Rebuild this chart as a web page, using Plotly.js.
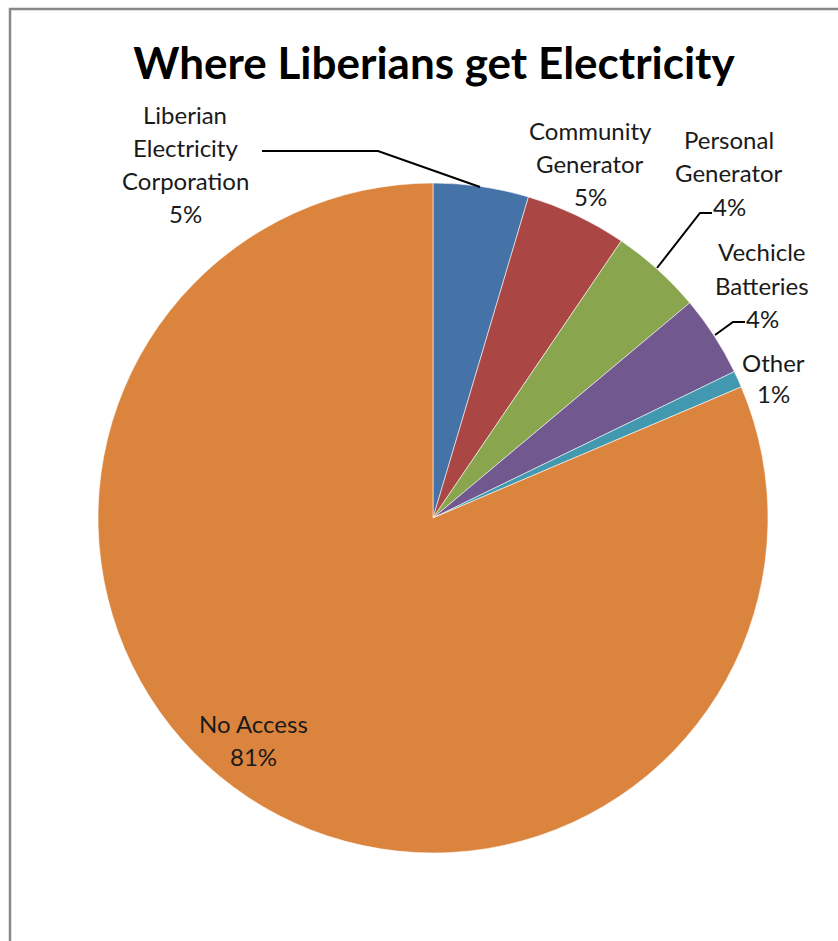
<!DOCTYPE html>
<html>
<head>
<meta charset="utf-8">
<script src="https://cdn.plot.ly/plotly-3.0.1.min.js"></script>
<style>html,body{margin:0;padding:0;background:#fff;}#chart{width:838px;height:941px;}</style>
</head>
<body>
<div id="chart"></div>
<script>
// ---- data ----
const categories = ["Liberian Electricity Corporation", "Community Generator", "Personal Generator", "Vechicle Batteries", "Other", "No Access"];
const values = [4.6, 4.9, 4.4, 3.9, 0.8, 81.4];
const labelLines = [["Liberian", "Electricity", "Corporation"], ["Community", "Generator"], ["Personal", "Generator"], ["Vechicle", "Batteries"], ["Other"], ["No Access"]];
const colors = ["#4572A7", "#AA4643", "#89A54E", "#71588F", "#4198AF", "#DB843D"];
const titleText = "Where Liberians get Electricity";

// ---- layout helpers (pixel -> paper) ----
const W = 838, H = 941;
const px = x => x / W;
const py = y => 1 - y / H;

// pie geometry
const cx = 433, cy = 518, r = 335;

// label placement (first-line centre, line spacing)
const labelPos = [
  {x: 185, y: 115, dy: 33},
  {x: 590, y: 130, dy: 33},
  {x: 729, y: 140, dy: 33},
  {x: 762, y: 252, dy: 33},
  {x: 773, y: 362, dy: 31},
  {x: 253, y: 723, dy: 33}
];

const total = values.reduce((a, b) => a + b, 0);
const annotations = [];
categories.forEach((c, i) => {
  const lines = labelLines[i].concat([Math.round(values[i] / total * 100) + "%"]);
  const p = labelPos[i];
  lines.forEach((t, k) => {
    annotations.push({
      xref: "paper", yref: "paper",
      x: px(p.x), y: py(p.y + k * p.dy),
      xanchor: "center", yanchor: "middle",
      text: t, showarrow: false,
      font: {family: "Lato, 'Open Sans', sans-serif", size: 24, color: "#1a1a1a"}
    });
  });
});

// leader lines
const leaders = [
  [[262, 151], [378, 151], [480, 187]],
  [[712, 213], [700, 213], [657, 268]],
  [[745, 322], [733, 322], [715, 335]]
];
const shapes = leaders.map(pts => ({
  type: "path", xref: "paper", yref: "paper",
  path: "M " + pts.map(p => px(p[0]) + "," + py(p[1])).join(" L "),
  line: {color: "#000", width: 2}
}));
// outer chart border
shapes.push({
  type: "rect", xref: "paper", yref: "paper",
  x0: px(10), y0: py(9), x1: px(860), y1: py(970),
  line: {color: "#888888", width: 2.5}, fillcolor: "rgba(0,0,0,0)"
});

const trace = {
  type: "pie",
  labels: categories,
  values: values,
  sort: false,
  direction: "clockwise",
  rotation: 0,
  textinfo: "none",
  hoverinfo: "label+percent",
  marker: {colors: colors, line: {color: "rgba(255,255,255,0.7)", width: 0.8}},
  domain: {x: [px(cx - r), px(cx + r)], y: [py(cy + r), py(cy - r)]},
  showlegend: false
};

const layout = {
  width: W, height: H,
  margin: {l: 0, r: 0, t: 0, b: 0},
  paper_bgcolor: "#fff",
  title: {
    text: "<b>" + titleText + "</b>",
    x: px(434), xref: "paper", xanchor: "center",
    y: py(64), yref: "paper", yanchor: "middle",
    font: {family: "Lato, 'Open Sans', sans-serif", size: 44, color: "#000"}
  },
  annotations: annotations,
  shapes: shapes,
  showlegend: false
};

Plotly.newPlot("chart", [trace], layout, {displayModeBar: false, staticPlot: true});
</script>
</body>
</html>
